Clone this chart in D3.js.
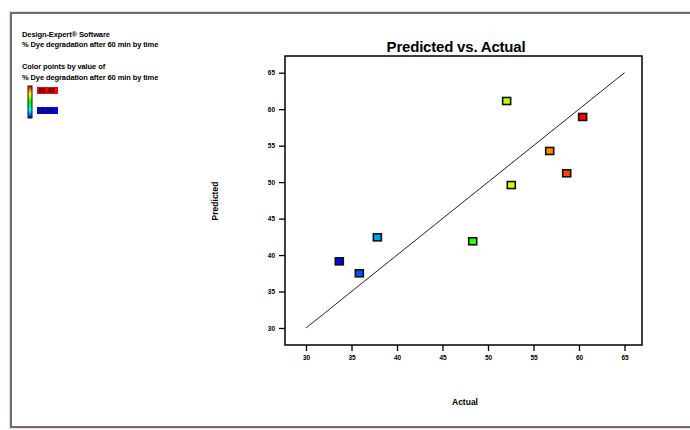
<!DOCTYPE html>
<html>
<head>
<meta charset="utf-8">
<script src="https://cdn.jsdelivr.net/npm/d3@7"></script>
<style>
  html, body { margin: 0; padding: 0; background: #fff; }
  svg { display: block; font-family: Arial, "Liberation Sans", sans-serif; }
</style>
</head>
<body>
<svg id="chart" width="690" height="430"></svg>
<script>
// Actual vs. predicted response values for each run
const actual    = [33.66, 35.86, 37.84, 48.32, 52.05, 52.56, 56.78, 58.65, 60.40];
const predicted = [39.14, 37.50, 42.43, 41.89, 61.12, 49.60, 54.27, 51.21, 58.93];
const tickValues = [30, 35, 40, 45, 50, 55, 60, 65];
const responseName = "% Dye degradation after 60 min by time";

const svg = d3.select("#chart");

// outer frame
svg.append("rect")
  .attr("x", 11).attr("y", 13).attr("width", 700).attr("height", 414)
  .attr("fill", "#fff").attr("stroke", "#f3d8d0").attr("stroke-width", 4);
svg.append("rect")
  .attr("x", 11).attr("y", 13).attr("width", 700).attr("height", 414)
  .attr("fill", "#fff").attr("stroke", "#6e6e6e").attr("stroke-width", 2);

const box = { left: 285, top: 56, right: 642, bottom: 345 };

const x = d3.scaleLinear().domain([30, 65]).range([306, 624.5]);
const y = d3.scaleLinear().domain([30, 65]).range([328, 72.7]);

// plot frame
svg.append("rect")
  .attr("x", box.left).attr("y", box.top)
  .attr("width", box.right - box.left).attr("height", box.bottom - box.top)
  .attr("fill", "none").attr("stroke", "#000").attr("stroke-width", 1.5);

// title
svg.append("text")
  .attr("x", 456).attr("y", 52)
  .attr("text-anchor", "middle")
  .attr("font-size", 15).attr("font-weight", "bold")
  .attr("letter-spacing", -0.2)
  .text("Predicted vs. Actual");

// axes
const xAxis = d3.axisBottom(x).tickValues(tickValues).tickSize(6).tickPadding(4)
  .tickFormat(d3.format("d"));
svg.append("g")
  .attr("transform", `translate(0,${box.bottom})`)
  .call(xAxis)
  .call(g => g.select(".domain").remove())
  .call(g => g.selectAll("line").attr("stroke-width", 1.3))
  .call(g => g.selectAll("text").attr("font-size", 6.5).attr("font-weight", "bold")
    .attr("font-family", "Arial, sans-serif"));

const yAxis = d3.axisLeft(y).tickValues(tickValues).tickSize(6).tickPadding(4)
  .tickFormat(d3.format("d"));
svg.append("g")
  .attr("transform", `translate(${box.left},0)`)
  .call(yAxis)
  .call(g => g.select(".domain").remove())
  .call(g => g.selectAll("line").attr("stroke-width", 1.3))
  .call(g => g.selectAll("text").attr("font-size", 6.5).attr("font-weight", "bold")
    .attr("font-family", "Arial, sans-serif"));

// axis titles
svg.append("text")
  .attr("x", 465).attr("y", 405)
  .attr("text-anchor", "middle")
  .attr("font-size", 8.5).attr("font-weight", "bold")
  .text("Actual");
svg.append("text")
  .attr("transform", "translate(218,201) rotate(-90)")
  .attr("text-anchor", "middle")
  .attr("font-size", 8.5).attr("font-weight", "bold")
  .text("Predicted");

// reference line: predicted = actual
svg.append("line")
  .attr("x1", x(30)).attr("y1", y(30))
  .attr("x2", x(65)).attr("y2", y(65))
  .attr("stroke", "#222").attr("stroke-width", 1);

// colour by actual value: blue (low) to red (high)
const [aMin, aMax] = d3.extent(actual);
const hue = d3.scaleLinear().domain([aMin, aMax]).range([240, 0]);
const colorOf = v => d3.hsl(hue(v), 1, 0.5).formatHex();

const pts = actual.map((a, i) => ({ a, p: predicted[i] }));
svg.append("g").selectAll("rect")
  .data(pts)
  .join("rect")
  .attr("x", d => x(d.a) - 4)
  .attr("y", d => y(d.p) - 3.5)
  .attr("width", 8).attr("height", 7)
  .attr("fill", d => colorOf(d.a))
  .attr("stroke", "#111").attr("stroke-width", 1.6);

// header text block
const header = svg.append("g").attr("font-size", 7.5).attr("font-weight", "bold")
  .attr("font-family", "Arial, sans-serif").attr("letter-spacing", -0.1);
header.append("text").attr("x", 22).attr("y", 37).text("Design-Expert® Software");
header.append("text").attr("x", 22).attr("y", 47).text(responseName);
header.append("text").attr("x", 22).attr("y", 69).text("Color points by value of");
header.append("text").attr("x", 22).attr("y", 80).text(responseName);

// colour bar legend
const defs = svg.append("defs");
const grad = defs.append("linearGradient").attr("id", "rainbow")
  .attr("x1", 0).attr("y1", 1).attr("x2", 0).attr("y2", 0);
d3.range(0, 1.0001, 0.125).forEach(t => {
  grad.append("stop").attr("offset", t)
    .attr("stop-color", colorOf(aMin + t * (aMax - aMin)));
});
svg.append("rect")
  .attr("x", 28).attr("y", 86).attr("width", 4).attr("height", 32)
  .attr("fill", "url(#rainbow)").attr("stroke", "#111").attr("stroke-width", 1);

const fmt = d3.format(".2f");
[[aMax, 87], [aMin, 107]].forEach(([v, yy]) => {
  svg.append("rect").attr("x", 37).attr("y", yy).attr("width", 21).attr("height", 7)
    .attr("fill", colorOf(v));
  svg.append("text").attr("x", 38).attr("y", yy + 6)
    .attr("font-size", 6.5).attr("font-weight", "bold").attr("fill", "#111")
    .text(fmt(v));
});
</script>
</body>
</html>
